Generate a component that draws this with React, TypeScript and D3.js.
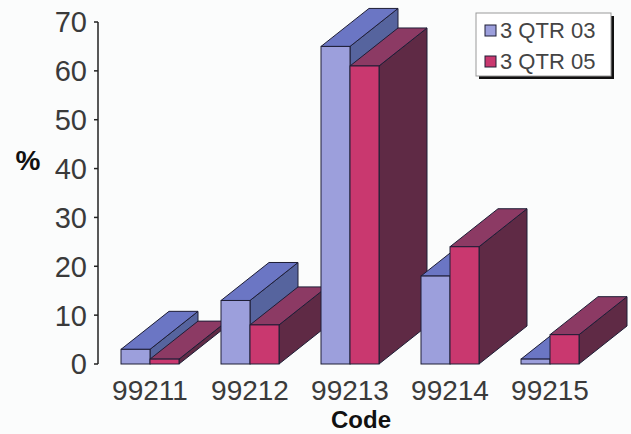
import React from "react";
import * as d3 from "d3";

const categories = ["99211", "99212", "99213", "99214", "99215"];
const seriesNames = ["3 QTR 03", "3 QTR 05"];
const qtr03 = [3, 13, 65, 18, 1];
const qtr05 = [1, 8, 61, 24, 6];
const yTicks = [0, 10, 20, 30, 40, 50, 60, 70];

const W = 631;
const H = 434;

// face colours per series: front, top, side
const palette = [
  { front: "#9c9fdc", top: "#6b76c4", side: "#56649e" },
  { front: "#c9386f", top: "#8c3a64", side: "#5f2a45" },
];
const edge = "#1e1e36";

// oblique depth offset of the 3D columns
const DX = 48;
const DY = -38;

export default function App() {
  const values = [qtr03, qtr05];
  const y = d3.scaleLinear().domain([0, 70]).range([364, 22]);
  const x = d3
    .scaleBand<string>()
    .domain(categories)
    .range([100, 600])
    .paddingInner(0.42)
    .paddingOuter(0.21);
  const xs = d3
    .scaleBand<string>()
    .domain(seriesNames)
    .range([0, x.bandwidth()]);

  const axisX = 98;
  const base = y(0);

  const bars: React.ReactNode[] = [];
  categories.forEach((cat, ci) => {
    seriesNames.forEach((s, si) => {
      const v = values[si][ci];
      const x0 = (x(cat) as number) + (xs(s) as number);
      const x1 = x0 + xs.bandwidth();
      const yt = y(v);
      const c = palette[si];
      const side = [
        [x1, base],
        [x1 + DX, base + DY],
        [x1 + DX, yt + DY],
        [x1, yt],
      ];
      const top = [
        [x0, yt],
        [x0 + DX, yt + DY],
        [x1 + DX, yt + DY],
        [x1, yt],
      ];
      const pts = (p: number[][]) => p.map((q) => q.join(",")).join(" ");
      bars.push(
        <g key={cat + s}>
          <polygon points={pts(side)} fill={c.side} stroke={edge} strokeWidth={1} strokeLinejoin="round" />
          <polygon points={pts(top)} fill={c.top} stroke={edge} strokeWidth={1} strokeLinejoin="round" />
          <rect x={x0} y={yt} width={x1 - x0} height={base - yt} fill={c.front} stroke={edge} strokeWidth={1} />
        </g>
      );
    });
  });

  const font = "'Liberation Sans', Arial, sans-serif";

  return (
    <svg width={W} height={H} style={{ position: "absolute", left: 0, top: 0, background: "#fbfcfc" }}>
      <rect x={0} y={0} width={W} height={H} fill="#fbfcfc" />
      {/* value axis */}
      <line x1={axisX} x2={axisX} y1={y(70)} y2={base} stroke="#222" strokeWidth={1.5} />
      {yTicks.map((t) => (
        <g key={t}>
          <line x1={axisX - 4} x2={axisX} y1={y(t)} y2={y(t)} stroke="#222" strokeWidth={1.5} />
          <text
            x={87}
            y={y(t)}
            dy="0.36em"
            textAnchor="end"
            fontFamily={font}
            fontSize={29}
            fill="#3a3a3a"
          >
            {t}
          </text>
        </g>
      ))}
      <text x={28} y={160} dy="0.36em" textAnchor="middle" fontFamily={font} fontWeight="bold" fontSize={28} fill="#111">
        %
      </text>

      {bars}

      {categories.map((cat) => (
        <text
          key={cat}
          x={(x(cat) as number) + x.bandwidth() / 2}
          y={400}
          textAnchor="middle"
          fontFamily={font}
          fontSize={28}
          fill="#3a3a3a"
        >
          {cat}
        </text>
      ))}
      <text x={361} y={428} textAnchor="middle" fontFamily={font} fontWeight="bold" fontSize={24} fill="#111">
        Code
      </text>

      {/* legend */}
      <rect x={479} y={16} width={135} height={63} fill="#111" />
      <rect x={476} y={13} width={135} height={63} fill="#fff" stroke="#999" strokeWidth={1} />
      {seriesNames.map((s, i) => (
        <g key={s}>
          <rect x={485} y={25 + i * 31} width={11} height={11} fill={palette[i].front} stroke={edge} strokeWidth={1} />
          <text x={500} y={30.5 + i * 31} dy="0.36em" fontFamily={font} fontSize={22} fill="#444">
            {s}
          </text>
        </g>
      ))}
    </svg>
  );
}
